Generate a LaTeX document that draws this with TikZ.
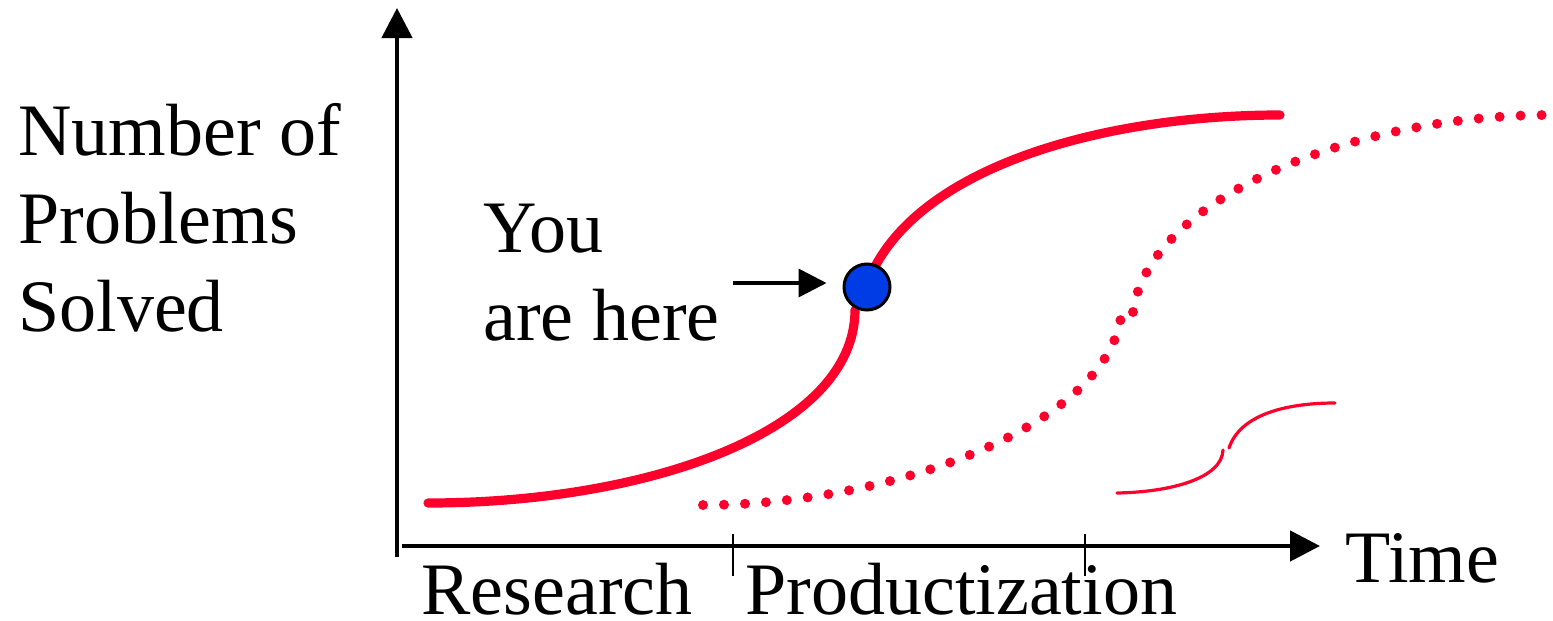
\documentclass[tikz,border=0pt]{standalone}
\usepackage{fontspec}
\setmainfont{Liberation Serif}
\usetikzlibrary{arrows.meta}
\definecolor{curvered}{RGB}{255,0,45}
\definecolor{dotblue}{RGB}{0,60,230}

\begin{document}
\begin{tikzpicture}[x=0.5pt, y=-0.5pt,
    label/.style={anchor=base west, inner sep=0pt, align=left,
      font=\fontsize{37}{44}\selectfont},
    axis/.style={line width=2.3pt, -{Triangle[length=15pt, width=15pt]}},
    phase/.style={line width=0.8pt},
    bigcurve/.style={curvered, line width=4.6pt, line cap=round},
    dotcurve/.style={curvered, line width=5pt, line cap=round,
      dash pattern=on 0pt off 10.5pt},
    smallcurve/.style={curvered, line width=1.6pt, line cap=round}]
  \useasboundingbox (0, 0) rectangle (1553, 621);
  % axes
  \coordinate (ybot) at (397, 557);
  \coordinate (ytop) at (397, 8);
  \coordinate (xleft) at (402, 546);
  \coordinate (xright) at (1320, 546);
  \draw[axis] (ybot) -- (ytop);
  \draw[axis] (xleft) -- (xright);
  % phase ticks
  \draw[phase] (733, 534) -- (733, 576);
  \draw[phase] (1085, 534) -- (1085, 576);
  % labels (base is the last line)
  \node[label] (ylabel) at (18, 331) {Number of\\Problems\\Solved};
  \node[label] (time) at (1345, 582) {Time};
  \node[label] (research) at (421, 614) {Research};
  \node[label] (product) at (745, 614) {Productization};
  \node[label] (you) at (483, 340) {You\\are here};
  % current technology
  \draw[bigcurve] (428, 503) .. controls (650, 503) and (855, 430) .. (855, 310);
  \draw[bigcurve] (862, 300) .. controls (895, 170) and (1100, 115) .. (1280, 115);
  % next technology
  \draw[dotcurve] (703, 505) .. controls (900, 505) and (1120, 420) .. (1122, 305);
  \draw[dotcurve] (1133, 312) .. controls (1148, 200) and (1350, 115) .. (1550, 115);
  % the one after
  \draw[smallcurve] (1117, 493) .. controls (1172, 492) and (1222, 478) .. (1223, 450);
  \draw[smallcurve] (1229, 448) .. controls (1240, 415) and (1285, 403) .. (1335, 403);
  % you are here
  \node[circle, draw=black, fill=dotblue, line width=1.5pt, minimum size=23pt,
    inner sep=0pt] (here) at (867, 287) {};
  \coordinate (pointer) at (733, 283);
  \draw[line width=1.8pt, -{Triangle[length=14pt, width=14pt]},
    shorten >=8pt] (pointer) -- (pointer -| here.west);
\end{tikzpicture}
\end{document}
